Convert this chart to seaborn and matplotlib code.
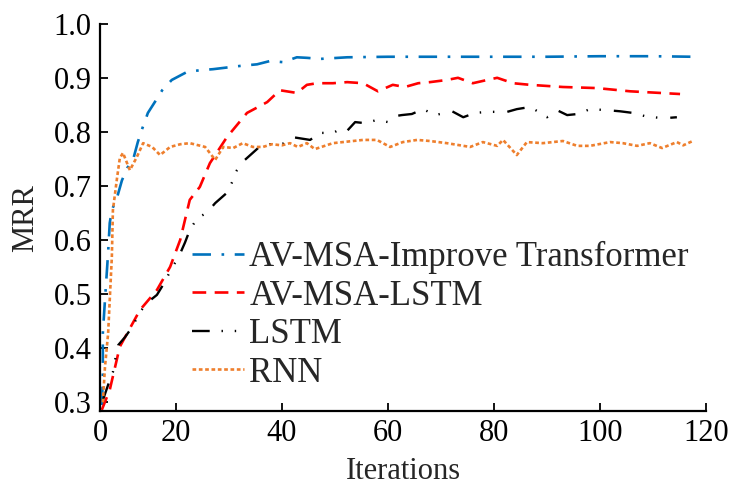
import matplotlib
matplotlib.use("Agg")
import matplotlib.pyplot as plt
import seaborn as sns
import pandas as pd
from matplotlib.ticker import FormatStrFormatter

# ---------------- data ----------------
tr_x = [6.0, 6.2, 6.2, 6.6, 7.2, 7.5, 7.9, 8.9, 9.8, 10.8, 11.9, 12.8, 13.6, 14.7,
        16.0, 17.4, 19.2, 22.1, 24.5, 27.0, 32.1, 35.3, 37.7, 40.2, 42.8, 44.7,
        47.2, 52.3, 60.0, 70.0, 80.0, 90.0, 100.0, 110.0, 117.5]
tr_y = [0.295, 0.341, 0.428, 0.489, 0.578, 0.632, 0.656, 0.680, 0.711, 0.734, 0.749,
        0.782, 0.806, 0.836, 0.856, 0.878, 0.897, 0.912, 0.915, 0.917, 0.923, 0.926,
        0.932, 0.930, 0.939, 0.938, 0.936, 0.939, 0.940, 0.940, 0.940, 0.940, 0.941,
        0.941, 0.940]

ls_x = [6.0, 7.5, 9.4, 13.2, 16.4, 18.9, 20.8, 22.6, 24.5, 26.4, 29.6, 33.4, 35.5,
        37.2, 39.6, 42.8, 44.7, 46.6, 49.6, 52.3, 55.3, 58.1, 60.9, 63.2, 65.7, 67.9,
        71.1, 73.2, 76.0, 78.7, 80.6, 83.6, 86.8, 93.0, 99.4, 105.7, 115.1]
ls_y = [0.286, 0.323, 0.403, 0.471, 0.508, 0.551, 0.601, 0.675, 0.699, 0.743, 0.791,
        0.836, 0.847, 0.856, 0.878, 0.873, 0.888, 0.891, 0.891, 0.893, 0.891, 0.876,
        0.888, 0.884, 0.891, 0.893, 0.897, 0.901, 0.891, 0.897, 0.901, 0.891, 0.888,
        0.884, 0.882, 0.876, 0.871]

lstm_x = [6.2, 7.5, 8.1, 8.5, 9.1, 10.4, 11.7, 13.2, 14.5, 16.4, 17.9, 19.2, 20.4,
          21.7, 22.6, 24.0, 25.8, 27.4, 29.6, 30.6, 31.5, 33.0, 35.5, 37.7, 40.0,
          42.1, 45.3, 47.2, 49.6, 51.5, 52.3, 53.8, 55.7, 57.9, 60.0, 61.3, 62.6,
          64.5, 66.6, 68.9, 72.1, 74.2, 76.4, 78.9, 82.5, 84.3, 86.8, 89.1, 90.0,
          91.9, 93.8, 95.8, 98.1, 101.5, 103.8, 106.2, 108.5, 111.9, 114.5]
lstm_y = [0.304, 0.341, 0.356, 0.378, 0.406, 0.421, 0.439, 0.467, 0.484, 0.499, 0.523,
          0.549, 0.567, 0.596, 0.619, 0.641, 0.651, 0.669, 0.688, 0.708, 0.730, 0.749,
          0.771, 0.778, 0.778, 0.791, 0.786, 0.799, 0.799, 0.808, 0.803, 0.819, 0.817,
          0.823, 0.819, 0.830, 0.832, 0.834, 0.843, 0.832, 0.839, 0.828, 0.836, 0.838,
          0.838, 0.843, 0.847, 0.834, 0.828, 0.841, 0.832, 0.834, 0.843, 0.841, 0.839,
          0.836, 0.830, 0.826, 0.828]

rnn_x = [6.2, 6.6, 7.2, 7.5, 7.9, 8.1, 8.9, 9.4, 10.0, 11.3, 12.6, 13.8, 15.5, 17.0,
         18.9, 20.8, 22.6, 25.5, 27.4, 28.9, 30.8, 32.6, 34.5, 36.4, 38.1, 40.0, 41.5,
         43.0, 44.7, 46.2, 49.6, 53.4, 55.3, 57.9, 60.4, 62.8, 65.5, 67.9, 71.1, 75.5,
         77.9, 80.6, 81.7, 84.3, 86.2, 89.2, 93.0, 95.7, 98.1, 101.9, 104.3, 107.0,
         109.4, 111.7, 114.5, 115.7, 117.5]
rnn_y = [0.300, 0.365, 0.428, 0.489, 0.569, 0.656, 0.717, 0.752, 0.762, 0.730, 0.754,
         0.780, 0.773, 0.758, 0.773, 0.778, 0.780, 0.773, 0.749, 0.773, 0.771, 0.780,
         0.773, 0.773, 0.778, 0.776, 0.780, 0.773, 0.780, 0.769, 0.780, 0.784, 0.786,
         0.786, 0.773, 0.782, 0.786, 0.784, 0.780, 0.773, 0.782, 0.775, 0.786, 0.758,
         0.782, 0.780, 0.784, 0.775, 0.775, 0.782, 0.780, 0.775, 0.780, 0.771, 0.782,
         0.776, 0.784]

labels = ["AV-MSA-Improve Transformer", "AV-MSA-LSTM", "LSTM", "RNN"]
x_tick_vals = [20, 40, 60, 80, 100, 120]
x_tick_labels = ["0", "20", "40", "60", "80", "100", "120"]
y_tick_vals = [0.3, 0.4, 0.5, 0.6, 0.7, 0.8, 0.9, 1.0]

# ---------------- style ----------------
sns.set_style("ticks")
plt.rcParams["font.family"] = ["Liberation Serif", "DejaVu Serif"]

fig = plt.figure(figsize=(7.34, 4.87), dpi=100)
ax = fig.add_axes([0.1362, 0.156, 0.8257, 0.794])

x_left = 5.66
styles = [
    dict(color="#0072BD", lw=1.9, ls=(0, (7, 4, 1, 4))),
    dict(color="#FF0000", lw=1.9, ls=(0, (5.2, 3.2))),
    dict(color="#000000", lw=1.7, ls=(0, (7.5, 5, 0.6, 5, 0.6, 5.5))),
    dict(color="#EE7F2D", lw=1.9, ls=(0, (1.4, 1.0))),
]
series = [(tr_x, tr_y), (ls_x, ls_y), (lstm_x, lstm_y), (rnn_x, rnn_y)]
for (xs, ys), lab, st in zip(series, labels, styles):
    df = pd.DataFrame({"Iterations": xs, "MRR": ys})
    sns.lineplot(data=df, x="Iterations", y="MRR", ax=ax, color=st["color"],
                 linewidth=st["lw"], linestyle=st["ls"], label=lab,
                 sort=False, estimator=None)

ax.set_xlim(x_left, 120)
ax.set_ylim(0.284, 1.0)
ax.set_xticks([x_left] + x_tick_vals)
ax.set_xticklabels(x_tick_labels)
ax.set_yticks(y_tick_vals)
ax.yaxis.set_major_formatter(FormatStrFormatter("%.1f"))

for s in ["top", "right"]:
    ax.spines[s].set_visible(False)
for s in ["left", "bottom"]:
    ax.spines[s].set_linewidth(1.6)
    ax.spines[s].set_color("black")

ax.tick_params(axis="both", direction="in", length=6, width=1.3, labelsize=22,
               colors="black")
ax.tick_params(axis="x", pad=6)
ax.tick_params(axis="y", pad=6)
ax.set_xlabel("Iterations", fontsize=22, labelpad=6)
ax.set_ylabel("MRR", fontsize=22, labelpad=10)

leg = ax.legend(loc="upper left", bbox_to_anchor=(0.152, 0.44), frameon=False,
                fontsize=25, handlelength=1.5, handletextpad=0.15,
                labelspacing=0.16, borderpad=0, borderaxespad=0)

fig.savefig("out.png", dpi=100)
